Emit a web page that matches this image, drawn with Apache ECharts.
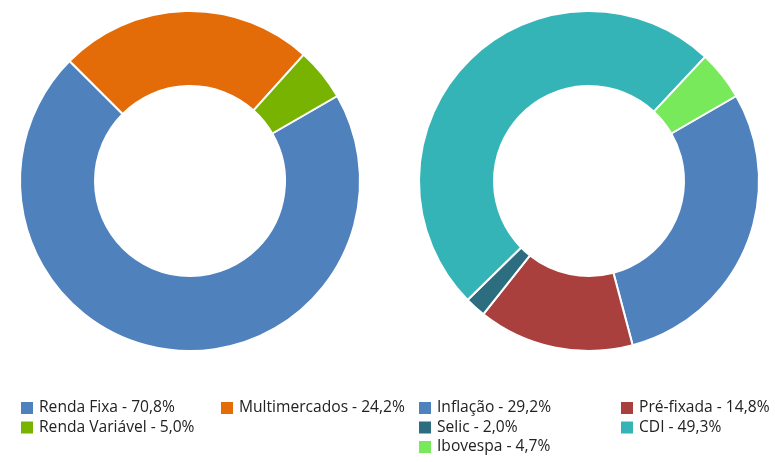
<!DOCTYPE html>
<html>
<head>
<meta charset="utf-8">
<script src="https://cdn.jsdelivr.net/npm/echarts@6/dist/echarts.min.js"></script>
<style>
  html, body { margin: 0; padding: 0; background: #fff; }
  #chart { width: 775px; height: 462px; }
</style>
</head>
<body>
<div id="chart"></div>
<script>
// carteira por classe
const classNames = ['Renda Fixa', 'Multimercados', 'Renda Variável'];
const classValues = [70.8, 24.2, 5.0];
const classColors = ['#4f81bd', '#e36c09', '#77b300'];

// renda fixa por indexador
const indexNames = ['Inflação', 'Pré-fixada', 'Selic', 'CDI', 'Ibovespa'];
const indexValues = [29.2, 14.8, 2.0, 49.3, 4.7];
const indexColors = ['#4f81bd', '#aa403d', '#2c6d7f', '#35b4b8', '#77e95a'];

const allNames = classNames.concat(indexNames);
const allValues = classValues.concat(indexValues);

function fmt(name) {
    const i = allNames.indexOf(name);
    return name + ' - ' + allValues[i].toFixed(1).replace('.', ',') + '%';
}

function toData(names, values, colors) {
    return names.map((n, i) => ({ name: n, value: values[i], itemStyle: { color: colors[i] } }));
}

function legendCol(left, data) {
    return {
        orient: 'vertical',
        left: left,
        top: 400,
        padding: 0,
        itemGap: 3.5,
        itemWidth: 14,
        itemHeight: 14,
        icon: 'rect',
        selectedMode: false,
        data: data,
        formatter: fmt,
        textStyle: {
            fontFamily: 'Open Sans',
            fontSize: 15.6,
            color: '#222'
        }
    };
}

const pieBase = {
    type: 'pie',
    radius: [95, 170],
    startAngle: 30,
    clockwise: true,
    label: { show: false },
    labelLine: { show: false },
    emphasis: { scale: false },
    itemStyle: { borderColor: '#fff', borderWidth: 2 }
};

const chart = echarts.init(document.getElementById('chart'));
chart.setOption({
    animation: false,
    legend: [
        legendCol(19, ['Renda Fixa', 'Renda Variável']),
        legendCol(219, ['Multimercados']),
        legendCol(417, ['Inflação', 'Selic', 'Ibovespa']),
        legendCol(619, ['Pré-fixada', 'CDI'])
    ],
    series: [
        Object.assign({}, pieBase, {
            name: 'Classes',
            center: [190, 181],
            data: toData(classNames, classValues, classColors)
        }),
        Object.assign({}, pieBase, {
            name: 'Indexadores',
            center: [589, 181],
            data: toData(indexNames, indexValues, indexColors)
        })
    ]
});
</script>
</body>
</html>
